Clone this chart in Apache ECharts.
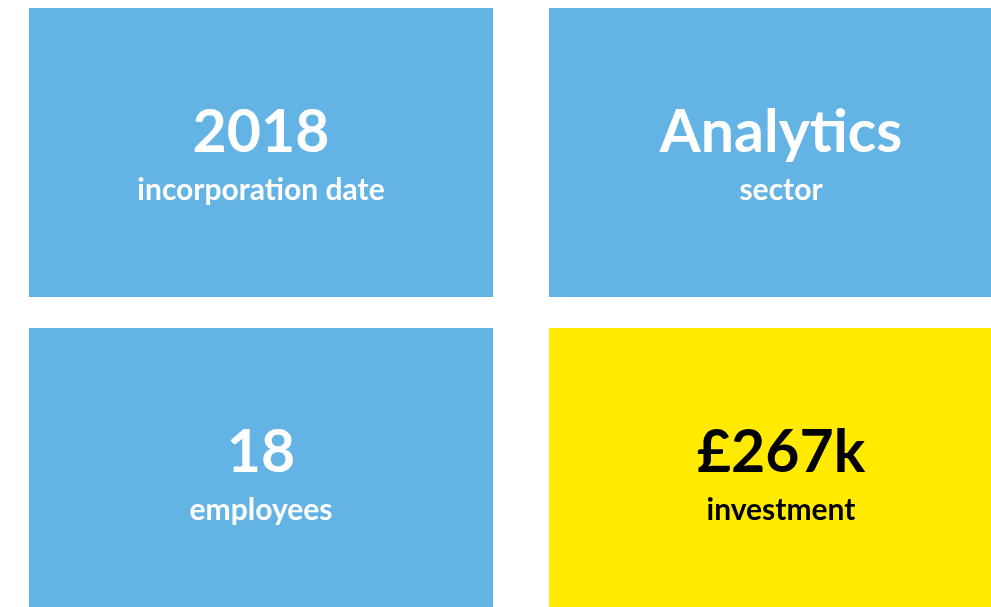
<!DOCTYPE html>
<html>
<head>
<meta charset="utf-8">
<script src="https://cdn.jsdelivr.net/npm/echarts@6/dist/echarts.min.js"></script>
<style>
  html, body { margin: 0; padding: 0; background: #fff; }
  #chart { width: 991px; height: 607px; }
</style>
</head>
<body>
<div id="chart"></div>
<script>
// tile contents
const figures = ['2018', 'Analytics', '18', '£267k'];
const captions = ['incorporation date', 'sector', 'employees', 'investment'];
const tileCol = [0, 1, 0, 1];
const tileRow = [0, 0, 1, 1];
const highlight = [false, false, false, true];

const BLUE = '#63b4e4';
const YELLOW = '#ffea00';
const FONT = '"Source Sans Pro", Lato, sans-serif';

const chart = echarts.init(document.getElementById('chart'));

function renderTile(params, api) {
  const col = api.value(0);
  const row = api.value(1);
  const tl = api.coord([col, row]);
  const br = api.coord([col + 1, row + 1]);
  const padX = 28, padY = 15.5;
  const x = tl[0] + padX, y = tl[1] + padY;
  const w = br[0] - tl[0] - padX * 2;
  const h = br[1] - tl[1] - padY * 2;
  const i = params.dataIndex;
  const ink = highlight[i] ? '#000' : '#fff';
  const cx = x + w / 2, cy = y + h / 2;
  return {
    type: 'group',
    children: [
      { type: 'rect', shape: { x: x, y: y, width: w, height: h },
        style: { fill: highlight[i] ? YELLOW : BLUE } },
      { type: 'text', x: cx, y: cy - 20,
        style: { text: figures[i], fill: ink, font: 'bold 59px ' + FONT,
                 align: 'center', verticalAlign: 'middle' } },
      { type: 'text', x: cx, y: cy + 38,
        style: { text: captions[i], fill: ink, font: 'bold 30px ' + FONT,
                 align: 'center', verticalAlign: 'middle' } }
    ]
  };
}

chart.setOption({
  animation: false,
  grid: { left: 1, top: -7.5, width: 1040, height: 640, outerBoundsMode: 'none' },
  xAxis: { type: 'value', min: 0, max: 2, show: false },
  yAxis: { type: 'value', min: 0, max: 2, inverse: true, show: false },
  series: [{
    type: 'custom',
    renderItem: renderTile,
    clip: false,
    data: figures.map((f, i) => [tileCol[i], tileRow[i]])
  }]
});
</script>
</body>
</html>
